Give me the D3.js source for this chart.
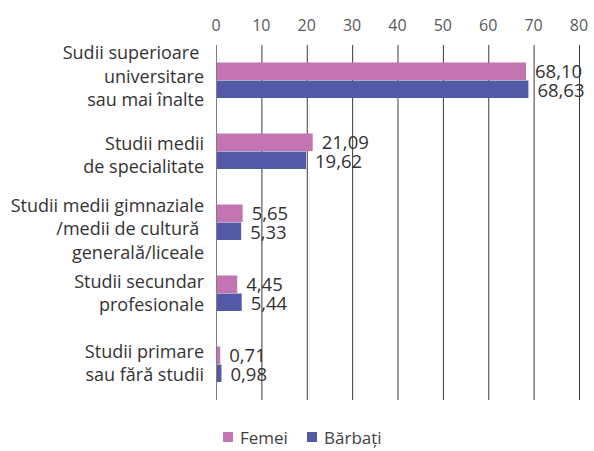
<!DOCTYPE html>
<html><head><meta charset="utf-8">
<script src="https://cdn.jsdelivr.net/npm/d3@7"></script>
<style>body{margin:0;background:#fff}svg{display:block}</style>
</head><body>
<script>
const categories = [
  ["Sudii superioare ", "universitare", "sau mai înalte"],
  ["Studii medii", "de specialitate"],
  ["Studii medii gimnaziale", "/medii de cultură ", "generală/liceale"],
  ["Studii secundar", "profesionale"],
  ["Studii primare", "sau fără studii"]
];
const femei = [68.10, 21.09, 5.65, 4.45, 0.71];
const barbati = [68.63, 19.62, 5.33, 5.44, 0.98];
const seriesNames = ["Femei", "Bărbați"];
const colors = ["#C474B2", "#535AA5"];
const ticks = [0,10,20,30,40,50,60,70,80];

const W = 594, H = 451;
const svg = d3.select("body").append("svg").attr("width", W).attr("height", H);
const font = "'Open Sans', sans-serif";

const x = d3.scaleLinear().domain([0, 80]).range([216, 579]);
const y = d3.scaleBand().domain(d3.range(categories.length)).range([45, 400]);
const barH = 18;

// gridlines
svg.append("g").selectAll("line").data(ticks).join("line")
  .attr("x1", d => x(d) + 0.5).attr("x2", d => x(d) + 0.5)
  .attr("y1", 45).attr("y2", 400)
  .attr("stroke", d => d === 0 ? "#7f7f7f" : "#3a3a3a").attr("stroke-width", 1);

// tick labels
svg.append("g").selectAll("text").data(ticks).join("text")
  .attr("x", d => x(d)).attr("y", 31)
  .attr("text-anchor", "middle")
  .attr("font-family", font).attr("font-size", 16).attr("fill", "#595959")
  .text(d => d);

const series = [femei, barbati];
series.forEach((vals, si) => {
  const g = svg.append("g");
  g.selectAll("rect").data(vals).join("rect")
    .attr("x", x(0) + 1)
    .attr("y", (d, i) => y(i) + y.bandwidth() / 2 - barH + si * barH)
    .attr("width", d => x(d) - x(0))
    .attr("height", barH - 0.5)
    .attr("fill", colors[si]);
  g.selectAll("text").data(vals).join("text")
    .attr("x", d => x(d) + 10)
    .attr("y", (d, i) => y(i) + y.bandwidth() / 2 - barH + si * barH + 15 + si)
    .attr("font-family", font).attr("font-size", 18.5).attr("fill", "#333")
    .text(d => d.toFixed(2).replace(".", ","));
});

// category labels (per-category vertical nudge, layout only)
const lh = 23.5;
const labelDy = [2, 10, 12.5, 6, 5];
categories.forEach((lines, i) => {
  const cy = y(i) + y.bandwidth() / 2 + labelDy[i];
  const t = svg.append("text").attr("text-anchor", "end")
    .attr("font-family", font).attr("font-size", 18).attr("fill", "#333");
  lines.forEach((l, j) => {
    t.append("tspan").attr("x", 204)
      .attr("y", cy + (j - (lines.length - 1) / 2) * lh)
      .text(l);
  });
});

// legend
const leg = svg.append("g");
const lx = [223, 307];
seriesNames.forEach((n, i) => {
  leg.append("rect").attr("x", lx[i]).attr("y", 432).attr("width", 10).attr("height", 10).attr("fill", colors[i]);
  leg.append("text").attr("x", lx[i] + 17).attr("y", 444)
    .attr("font-family", font).attr("font-size", 17).attr("fill", "#404040").text(n);
});
</script>
</body></html>
